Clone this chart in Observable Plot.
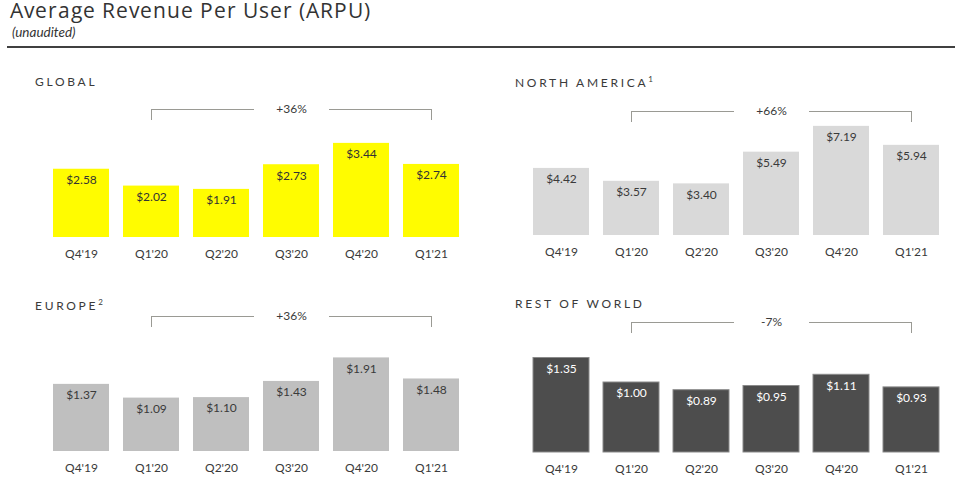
<!DOCTYPE html>
<html><head><meta charset="utf-8">
<script src="https://cdn.jsdelivr.net/npm/d3@7"></script>
<script src="https://cdn.jsdelivr.net/npm/@observablehq/plot@0.6"></script>
<style>
@font-face{font-family:"TitleSans";src:local("Open Sans Regular"),local("OpenSans-Regular"),local("Open Sans");
  ascent-override:80%;descent-override:20%;line-gap-override:0%;}
body{margin:0;background:#fff;font-family:Lato,"Noto Sans",sans-serif;color:#333;}
#root{position:relative;width:955px;height:488px;overflow:hidden;background:#fff;}
.abs{position:absolute;white-space:nowrap;}
#title{left:10px;top:2px;font-family:"TitleSans","Open Sans",Lato,sans-serif;font-size:20.5px;line-height:20.5px;letter-spacing:1px;color:#333;}
#sub{left:12px;top:26px;font-size:13.5px;line-height:13px;font-style:italic;color:#333;}
#rule{left:7px;top:46px;width:948px;height:2px;background:#404040;}
.ptitle{font-size:12px;line-height:16px;letter-spacing:2.7px;color:#3a3a3a;}
.ptitle sup{font-size:8px;letter-spacing:0;vertical-align:5px;line-height:0;}
.panel{position:absolute;}
</style></head><body><div id="root">
<div id="title" class="abs">Average Revenue Per User (ARPU)</div>
<div id="sub" class="abs">(unaudited)</div>
<div id="rule" class="abs"></div>
</div>
<script>
// ---- data ----
const quarters = ["Q4'19","Q1'20","Q2'20","Q3'20","Q4'20","Q1'21"];
const globalArpu = [2.58, 2.02, 1.91, 2.73, 3.44, 2.74];
const northAmericaArpu = [4.42, 3.57, 3.40, 5.49, 7.19, 5.94];
const europeArpu = [1.37, 1.09, 1.10, 1.43, 1.91, 1.48];
const restOfWorldArpu = [1.35, 1.00, 0.89, 0.95, 1.11, 0.93];
const panelNames = ["GLOBAL", "NORTH AMERICA", "EUROPE", "REST OF WORLD"];
const panelNotes = ["", "1", "2", ""];
const yoyChange = ["+36%", "+66%", "+36%", "-7%"];
const bracketFrom = "Q1'20";
const bracketTo = "Q1'21";

// ---- layout / style ----
const panels = [
  {values: globalArpu, left: 0, top: 60, baseline: 237, bracket: 109, ppu: 30.07, lo: 0.31,
   fill: "#FFFC00", stroke: "none", label: "#333", titleX: 35, titleY: 82},
  {values: northAmericaArpu, left: 480, top: 60, baseline: 235, bracket: 111, ppu: 15.18, lo: 0,
   fill: "#D9D9D9", stroke: "none", label: "#3a3a3a", titleX: 515, titleY: 83},
  {values: europeArpu, left: 0, top: 280, baseline: 451, bracket: 316, ppu: 49.0, lo: 0,
   fill: "#BFBFBF", stroke: "none", label: "#3a3a3a", titleX: 35, titleY: 306},
  {values: restOfWorldArpu, left: 480, top: 280, baseline: 452, bracket: 322, ppu: 70.0, lo: 0,
   fill: "#4D4D4D", stroke: "#8a8a8a", label: "#ffffff", titleX: 515, titleY: 304}
];

const root = document.getElementById("root");
const gapSymbol = {draw(ctx) { ctx.rect(-37.5, -4, 75, 8); }};

panels.forEach((p, k) => {
  const data = quarters.map((q, i) => ({q, v: p.values[i]}));
  const height = p.baseline - p.top + 28;
  const marginTop = p.bracket - p.top;
  const hi = p.lo + (p.baseline - p.bracket) / p.ppu;
  const i1 = quarters.indexOf(bracketFrom), i2 = quarters.indexOf(bracketTo);
  const midQ = quarters[Math.round((i1 + i2) / 2)];

  const chart = Plot.plot({
    width: 475,
    height,
    marginTop,
    marginBottom: 28,
    marginLeft: 39,
    marginRight: 2,
    style: {fontFamily: "Lato, 'Noto Sans', sans-serif", fontSize: "12px", color: "#3a3a3a", background: "transparent"},
    x: {domain: quarters, padding: 0.2, tickSize: 0, tickPadding: 12, label: null},
    y: {domain: [p.lo, hi], axis: null},
    marks: [
      Plot.link([{from: bracketFrom, to: bracketTo}], {x1: "from", x2: "to", y1: hi, y2: hi, stroke: "#9a9a94", strokeWidth: 1}),
      Plot.dot([midQ], {x: d => d, y: hi, symbol: gapSymbol, fill: "white", stroke: "none"}),
      Plot.ruleX([bracketFrom, bracketTo], {x: d => d, y1: hi, y2: hi, insetTop: 11, stroke: "#9a9a94", strokeWidth: 1}),
      Plot.text([yoyChange[k]], {x: () => midQ, y: hi, text: d => d, fill: "#3a3a3a", fontSize: 12}),
      Plot.barY(data, {x: "q", y1: p.lo, y2: "v", fill: p.fill, stroke: p.stroke, strokeWidth: 1}),
      Plot.text(data, {x: "q", y: "v", dy: 11, text: d => "$" + d.v.toFixed(2), fill: p.label, fontSize: 12})
    ]
  });
  const wrap = document.createElement("div");
  wrap.className = "panel";
  wrap.style.left = p.left + "px";
  wrap.style.top = p.top + "px";
  wrap.appendChild(chart);
  root.appendChild(wrap);

  const t = document.createElement("div");
  t.className = "abs ptitle";
  t.style.left = p.titleX + "px";
  t.style.top = (p.titleY - 8) + "px";
  t.textContent = panelNames[k];
  if (panelNotes[k]) {
    const s = document.createElement("sup");
    s.textContent = panelNotes[k];
    t.appendChild(s);
  }
  root.appendChild(t);
});
</script>
</body></html>
